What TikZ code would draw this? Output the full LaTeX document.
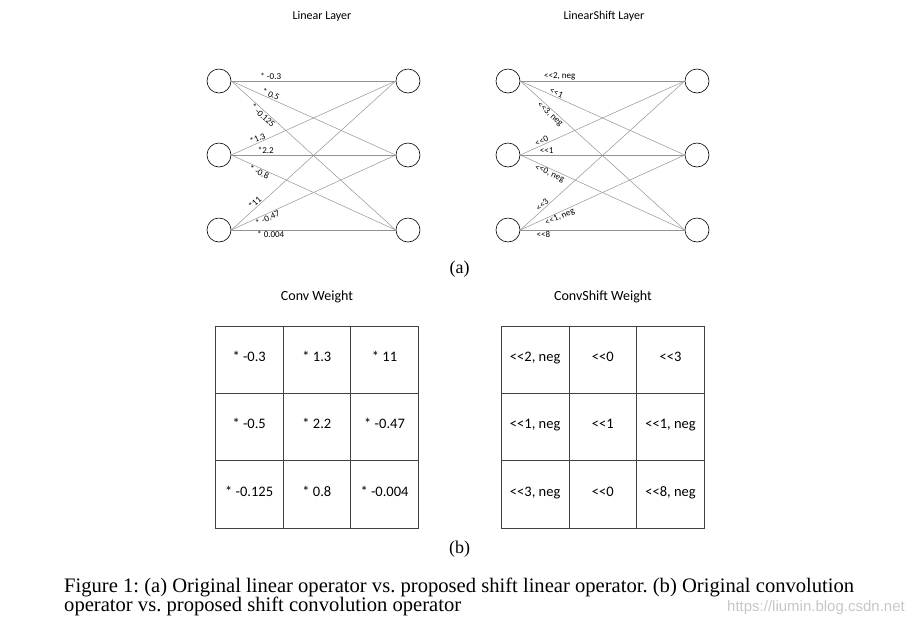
\documentclass[tikz,border=0pt]{standalone}
\usepackage{fontspec}
\setmainfont{Liberation Serif}
\newfontfamily\calib{Carlito}
\newfontfamily\wmfont{Liberation Sans}
\frenchspacing
\begin{document}
\begin{tikzpicture}[x=1pt,y=-1pt,
  neuron/.style={circle,draw=black,line width=0.6pt,minimum size=24pt,inner sep=0pt},
  conn/.style={draw=gray!85,line width=0.5pt},
  wlab/.style={font=\calib\fontsize{9}{10}\selectfont,inner sep=0.8pt,sloped},
  title/.style={font=\calib\fontsize{12}{14}\selectfont},
  cell/.style={draw=black!75,line width=0.7pt,minimum width=67.7pt,minimum height=67.3pt,inner sep=0pt,text height=7pt,text depth=3pt,font=\calib\fontsize{14.5}{16}\selectfont},
  sub/.style={font=\fontsize{18}{20}\selectfont},
  capt/.style={anchor=base west,font=\fontsize{20.6}{22}\selectfont,inner sep=0pt}
]
\useasboundingbox (0,0) rectangle (914,625);
% titles
\node[title] (t1) at (322,16) {Linear Layer};
\node[title] (t2) at (604,16) {LinearShift Layer};
% left network
\node[neuron] (a1) at (219,81) {};
\node[neuron] (a2) at (219,155) {};
\node[neuron] (a3) at (219,230) {};
\node[neuron] (b1) at (408,81) {};
\node[neuron] (b2) at (408,155) {};
\node[neuron] (b3) at (408,230) {};
\draw[conn] (a1.east) -- node[wlab,pos=0.24,above]{* -0.3} (b1.west);
\draw[conn] (a1.east) -- node[wlab,pos=0.23,above]{* 0.5} (b2.west);
\draw[conn] (a1.east) -- node[wlab,pos=0.21,below]{* -0.125} (b3.west);
\draw[conn] (a2.east) -- node[wlab,pos=0.17,above]{*1.3} (b1.west);
\draw[conn] (a2.east) -- node[wlab,pos=0.21,above]{*2.2} (b2.west);
\draw[conn] (a2.east) -- node[wlab,pos=0.18,below]{* -0.8} (b3.west);
\draw[conn] (a3.east) -- node[wlab,pos=0.16,above]{*11} (b1.west);
\draw[conn] (a3.east) -- node[wlab,pos=0.21,below]{* -0.47} (b2.west);
\draw[conn] (a3.east) -- node[wlab,pos=0.24,below]{* 0.004} (b3.west);
% right network
\node[neuron] (c1) at (508,81) {};
\node[neuron] (c2) at (508,155) {};
\node[neuron] (c3) at (508,230) {};
\node[neuron] (d1) at (697,81) {};
\node[neuron] (d2) at (697,155) {};
\node[neuron] (d3) at (697,230) {};
\draw[conn] (c1.east) -- node[wlab,pos=0.24,above]{<<2, neg} (d1.west);
\draw[conn] (c1.east) -- node[wlab,pos=0.21,above]{<<1} (d2.west);
\draw[conn] (c1.east) -- node[wlab,pos=0.20,below]{<<3, neg} (d3.west);
\draw[conn] (c2.east) -- node[wlab,pos=0.14,above]{<<0} (d1.west);
\draw[conn] (c2.east) -- node[wlab,pos=0.16,above]{<<1} (d2.west);
\draw[conn] (c2.east) -- node[wlab,pos=0.19,below]{<<0, neg} (d3.west);
\draw[conn] (c3.east) -- node[wlab,pos=0.15,above]{<<3} (d1.west);
\draw[conn] (c3.east) -- node[wlab,pos=0.23,below]{<<1, neg} (d2.west);
\draw[conn] (c3.east) -- node[wlab,pos=0.14,below]{<<8} (d3.west);
\node[sub] (la) at (459.5,269) {(a)};
% grids
\node[font=\calib\fontsize{14}{16}\selectfont] (t3) at (317,297) {Conv Weight};
\node[font=\calib\fontsize{14}{16}\selectfont] (t4) at (603,297) {ConvShift Weight};
\foreach \t [count=\i from 0] in {{* -0.3},{* 1.3},{* 11},{* -0.5},{* 2.2},{* -0.47},{* -0.125},{* 0.8},{* -0.004}}{
  \pgfmathtruncatemacro\col{mod(\i,3)}
  \pgfmathtruncatemacro\row{div(\i,3)}
  \node[cell] (g\i) at ({249.15+\col*67.7},{359.65+\row*67.3}) {\t};
}
\foreach \t [count=\i from 0] in {{<<2, neg},{<<0},{<<3},{<<1, neg},{<<1},{<<1, neg},{<<3, neg},{<<0},{<<8, neg}}{
  \pgfmathtruncatemacro\col{mod(\i,3)}
  \pgfmathtruncatemacro\row{div(\i,3)}
  \node[cell] (h\i) at ({535.15+\col*67.7},{359.65+\row*67.3}) {\t};
}
\node[sub] (lb) at (459.5,549) {(b)};
% caption
\node[capt] (cap1) at (64,592.5) {Figure 1: (a) Original linear operator vs. proposed shift linear operator. (b) Original convolution};
\node[capt] (cap2) at (64,611.5) {operator vs. proposed shift convolution operator};
\node[anchor=base east,font=\wmfont\fontsize{15}{16}\selectfont,text=black!22,inner sep=0pt] (wm) at (905,611) {https://liumin.blog.csdn.net};
\end{tikzpicture}
\end{document}
